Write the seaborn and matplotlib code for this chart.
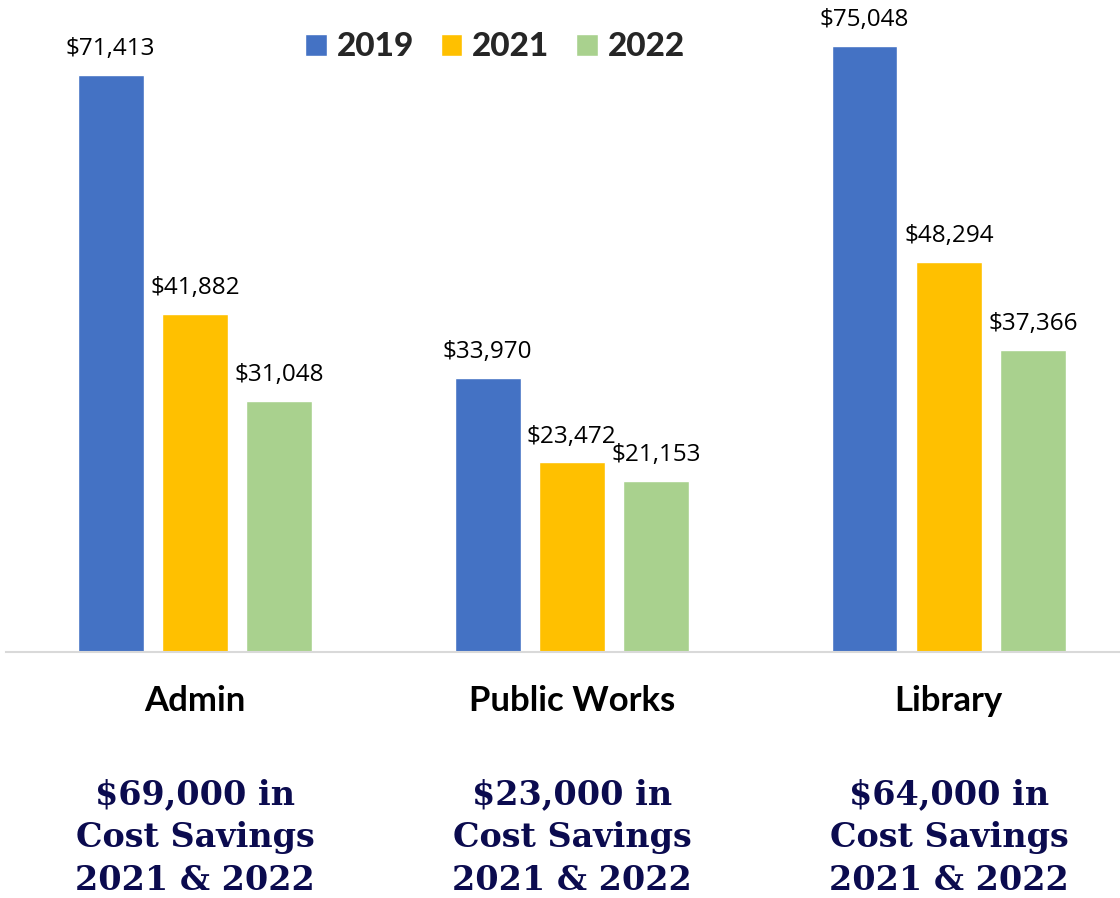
import matplotlib
matplotlib.use("Agg")
import matplotlib.pyplot as plt
import seaborn as sns
import pandas as pd

categories = ["Admin", "Public Works", "Library"]
years = ["2019", "2021", "2022"]
values_2019 = [71413, 33970, 75048]
values_2021 = [41882, 23472, 48294]
values_2022 = [31048, 21153, 37366]
savings = ["$69,000 in\nCost Savings\n2021 & 2022",
           "$23,000 in\nCost Savings\n2021 & 2022",
           "$64,000 in\nCost Savings\n2021 & 2022"]
colors = ["#4472C4", "#FFC000", "#A9D18E"]

rows = []
for yr, vals in zip(years, [values_2019, values_2021, values_2022]):
    for c, v in zip(categories, vals):
        rows.append({"category": c, "year": yr, "value": v})
df = pd.DataFrame(rows)

sns.set_theme(style="white")
plt.rcParams['font.family'] = ['Lato', 'DejaVu Sans']

fig = plt.figure(figsize=(11.2, 8.98), dpi=100)
ax = fig.add_axes([6/1120, 1 - 652/898, 1 - 6/1120, 652/898])

sns.barplot(data=df, x="category", y="value", hue="year", order=categories,
            hue_order=years, palette=colors, width=0.67, gap=0.22,
            saturation=1, ax=ax, legend=True)

ax.set_ylim(0, 80745)
ax.set_xlim(-0.501, 2.454)
for cont in ax.containers:
    ax.bar_label(cont, labels=[f"${v:,.0f}" for v in cont.datavalues],
                 padding=10, fontsize=17.5, color="#000000",
                 family=["Open Sans", "DejaVu Sans"])

for s in ["top", "right", "left"]:
    ax.spines[s].set_visible(False)
ax.spines["bottom"].set_color("#D9D9D9")
ax.spines["bottom"].set_linewidth(1.5)
ax.set_yticks([])
ax.set_xlabel("")
ax.set_ylabel("")
ax.tick_params(axis="x", length=0, pad=24)
for lbl in ax.get_xticklabels():
    lbl.set_fontsize(25)
    lbl.set_fontweight("bold")
    lbl.set_color("#000000")

leg = ax.legend(loc="center", bbox_to_anchor=(495/1120, 1 - 47/898),
                bbox_transform=fig.transFigure, ncol=3, frameon=False,
                handlelength=0.65, handleheight=0.65, handletextpad=0.3,
                columnspacing=0.8, prop={"weight": "black", "size": 24})

centers = [195, 572, 949]
for cx, txt in zip(centers, savings):
    fig.text(cx/1120, 1 - 838/898, txt, ha="center", va="center",
             fontsize=24, fontweight="bold", color="#0B0B4F",
             family=["DejaVu Serif"], linespacing=1.38)

fig.savefig("out.png", dpi=100)
